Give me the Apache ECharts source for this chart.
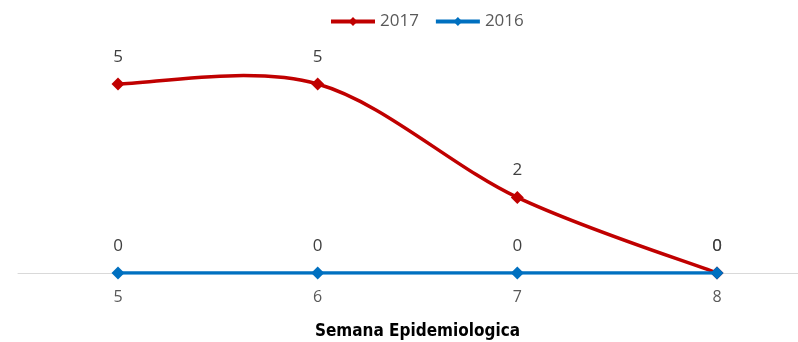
<!DOCTYPE html>
<html>
<head>
<meta charset="utf-8">
<script src="https://cdn.jsdelivr.net/npm/echarts@6/dist/echarts.min.js"></script>
<style>
html,body{margin:0;padding:0;background:#fff;}
#chart{width:798px;height:342px;}
</style>
</head>
<body>
<div id="chart"></div>
<script>
const weeks = ['5', '6', '7', '8'];
const cases2017 = [5, 5, 2, 0];
const cases2016 = [0, 0, 0, 0];

const RED = '#c00000';
const BLUE = '#0070c0';

// Cardinal spline (tension 1/6) through the points, as office charts smooth lines
function smoothPath(pts) {
  let d = 'M' + pts[0][0] + ' ' + pts[0][1];
  for (let i = 0; i < pts.length - 1; i++) {
    const p0 = pts[Math.max(i - 1, 0)];
    const p1 = pts[i];
    const p2 = pts[i + 1];
    const p3 = pts[Math.min(i + 2, pts.length - 1)];
    const c1 = [p1[0] + (p2[0] - p0[0]) / 6, p1[1] + (p2[1] - p0[1]) / 6];
    const c2 = [p2[0] - (p3[0] - p1[0]) / 6, p2[1] - (p3[1] - p1[1]) / 6];
    d += ' C' + c1[0] + ' ' + c1[1] + ' ' + c2[0] + ' ' + c2[1] + ' ' + p2[0] + ' ' + p2[1];
  }
  return d;
}

const chart = echarts.init(document.getElementById('chart'));
const labelStyle = {
  show: true,
  position: 'top',
  distance: 12,
  color: '#404040',
  fontSize: 17,
  fontFamily: 'Open Sans'
};
chart.setOption({
  animation: false,
  legend: {
    top: 8,
    left: 324,
    itemWidth: 44,
    itemHeight: 11,
    itemGap: 15,
    textStyle: { color: '#595959', fontSize: 17, fontFamily: 'Open Sans' },
    data: [
      { name: '2017', lineStyle: { color: RED, width: 4, opacity: 1 }, itemStyle: { color: RED } },
      { name: '2016', lineStyle: { color: BLUE, width: 4, opacity: 1 }, itemStyle: { color: BLUE } }
    ]
  },
  grid: [
    { left: 118, right: 81, top: 84, bottom: 69, outerBoundsMode: 'none', containLabel: false },
    { left: 18, right: 0, top: 84, bottom: 69, outerBoundsMode: 'none', containLabel: false }
  ],
  xAxis: [
    {
      type: 'category',
      gridIndex: 0,
      data: weeks,
      boundaryGap: false,
      axisLine: { show: false },
      axisTick: { show: false },
      axisLabel: { color: '#595959', fontSize: 16, fontFamily: 'Open Sans', margin: 16 },
      name: 'Semana Epidemiologica',
      nameLocation: 'middle',
      nameGap: 50,
      nameTextStyle: { color: '#000', fontSize: 17, fontWeight: 'bold', fontFamily: 'DejaVu Sans Condensed, Liberation Sans' },
      z: 1
    },
    {
      // baseline running the full width of the plot
      type: 'value',
      gridIndex: 1,
      min: 0,
      max: 1,
      axisLine: { show: true, onZero: false, lineStyle: { color: '#d9d9d9', width: 1 } },
      axisTick: { show: false },
      axisLabel: { show: false },
      splitLine: { show: false },
      z: 0
    }
  ],
  yAxis: [
    { type: 'value', gridIndex: 0, min: 0, max: 5, show: false },
    { type: 'value', gridIndex: 1, min: 0, max: 1, show: false }
  ],
  series: [
    {
      // smoothed 2017 curve
      type: 'custom',
      xAxisIndex: 0,
      yAxisIndex: 0,
      data: cases2017.map((v, i) => [i, v]),
      silent: true,
      z: 1,
      renderItem: function (params, api) {
        if (params.dataIndex !== 0) return null;
        const pts = cases2017.map((v, i) => api.coord([i, v]));
        return {
          type: 'path',
          shape: { pathData: smoothPath(pts) },
          style: { fill: 'none', stroke: RED, lineWidth: 3.5 }
        };
      }
    },
    {
      name: '2017',
      type: 'line',
      xAxisIndex: 0,
      yAxisIndex: 0,
      data: cases2017,
      symbol: 'diamond',
      symbolSize: 13,
      lineStyle: { color: RED, width: 3.5, opacity: 0 },
      itemStyle: { color: RED },
      label: labelStyle,
      z: 2
    },
    {
      name: '2016',
      type: 'line',
      xAxisIndex: 0,
      yAxisIndex: 0,
      data: cases2016,
      symbol: 'diamond',
      symbolSize: 13,
      lineStyle: { color: BLUE, width: 3.5 },
      itemStyle: { color: BLUE },
      label: labelStyle,
      z: 3
    }
  ]
});
</script>
</body>
</html>
